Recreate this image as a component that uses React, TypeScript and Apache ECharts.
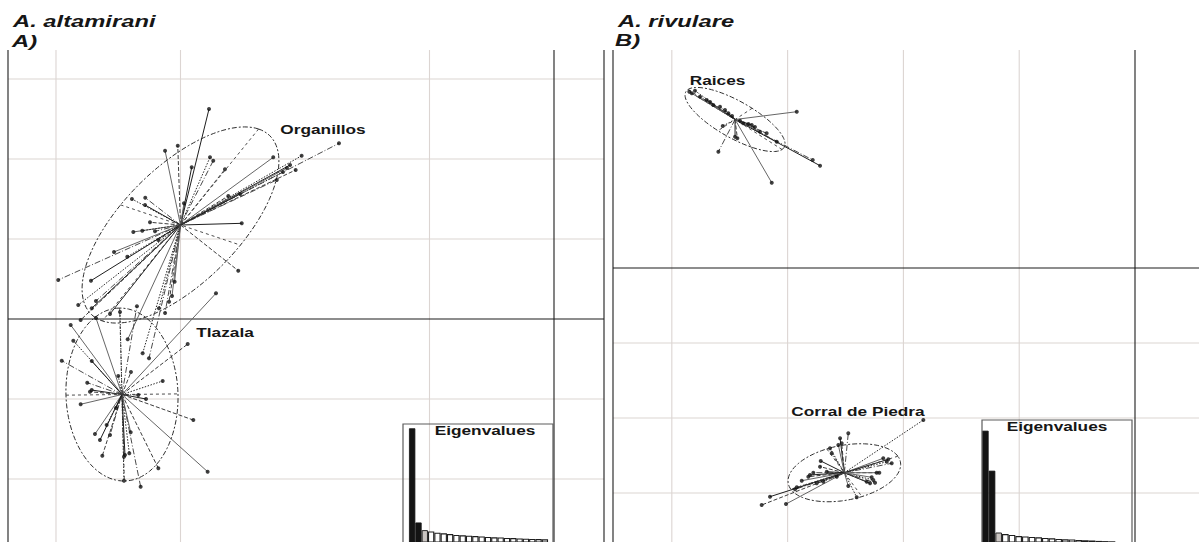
import React, { useEffect, useRef } from "react";
import * as echarts from "echarts";

// ---------- A. altamirani : discriminant scores (axis 1, axis 2) ----------
const organillos: number[][] = [
  [-2.771, 2.625], [-3.022, 2.166], [-3.124, 2.104], [-2.763, 2.021], [-2.737, 1.979],
  [-2.910, 1.896], [-2.643, 1.871], [-2.255, 2.021], [-2.027, 2.041], [-1.727, 2.196],
  [-2.120, 1.925], [-2.075, 1.863], [-2.145, 1.888], [-2.177, 1.838], [-2.227, 1.738],
  [-2.522, 1.563], [-2.616, 1.538], [-2.972, 1.446], [-3.390, 1.500], [-3.283, 1.516],
  [-3.285, 1.425], [-3.245, 1.209], [-3.379, 1.088], [-3.307, 1.104], [-3.205, 1.096],
  [-2.508, 1.196], [-3.178, 0.988], [-3.534, 0.838], [-3.427, 0.779], [-3.982, 0.488],
  [-3.719, 0.479], [-2.536, 0.604], [-3.047, 0.466], [-3.821, 0.175], [-3.679, 0.225],
  [-3.713, 0.134], [-3.092, 0.216], [-3.068, 0.288], [-3.173, 0.134], [-3.124, 0.075],
  [-3.566, 0.063], [-3.802, -0.013], [-3.424, -0.254], [-3.304, -0.429], [-3.253, -0.491],
];
const tlazala: number[][] = [
  [-3.882, -0.075], [-3.861, -0.271], [-3.954, -0.521], [-3.713, -0.525], [-2.942, -0.313],
  [-2.715, 0.321], [-3.500, -0.713], [-3.749, -0.796], [-3.713, -0.888], [-3.727, -0.909],
  [-3.802, -1.066], [-3.143, -0.775], [-3.339, -0.950], [-3.277, -1.000], [-2.897, -1.263],
  [-3.687, -1.438], [-3.593, -1.325], [-3.566, -1.450], [-3.647, -1.513], [-3.628, -1.709],
  [-3.400, -1.416], [-3.411, -1.679], [-3.454, -1.721], [-3.446, -1.700], [-3.178, -1.866],
  [-2.782, -1.909], [-3.454, -2.021], [-3.320, -2.096], [-3.518, -1.113], [-3.398, -0.663],
  [-3.679, 0.013], [-3.486, 0.088], [-3.350, 0.160],
];
const organillosCentroid = [-3.0, 1.175];
const tlazalaCentroid = [-3.47, -0.944];
// inertia ellipses: [semi-major, semi-minor, angle of the major axis (deg)]
const organillosEllipse = [1.354, 0.543, 62.4];
const tlazalaEllipse = [1.081, 0.45, 91];

// ---------- A. rivulare ----------
const raices: number[][] = [
  [-3.849, 2.351], [-3.828, 2.329], [-3.800, 2.364], [-3.756, 2.284], [-3.699, 2.240],
  [-3.670, 2.213], [-3.642, 2.173], [-3.584, 2.151], [-3.541, 2.107], [-3.512, 2.063],
  [-3.480, 2.027], [-3.411, 1.964], [-3.383, 1.929], [-3.339, 1.920], [-3.310, 1.907],
  [-3.282, 1.880], [-2.921, 2.084], [-3.560, 1.893], [-3.598, 1.551], [-3.454, 1.751],
  [-3.434, 1.729], [-3.137, 1.137], [-3.094, 1.684], [-2.783, 1.440], [-2.720, 1.364],
  [-3.181, 1.796], [-3.238, 1.817],
];
const corral: number[][] = [
  [-1.828, -2.027], [-2.476, -2.204], [-2.547, -2.271], [-2.533, -2.337], [-2.562, -2.360],
  [-2.634, -2.404], [-2.619, -2.471], [-2.714, -2.573], [-2.720, -2.649], [-2.174, -2.537],
  [-2.144, -2.583], [-2.101, -2.604], [-2.130, -2.551], [-2.231, -2.729], [-2.208, -2.729],
  [-2.260, -2.827], [-2.245, -2.863], [-2.288, -2.871], [-2.317, -2.849], [-2.476, -2.907],
  [-2.403, -3.057], [-2.778, -2.729], [-2.807, -2.760], [-2.821, -2.783], [-2.878, -2.836],
  [-2.921, -2.924], [-2.936, -2.951], [-3.152, -3.049], [-3.224, -3.160], [-3.014, -3.147],
  [-2.749, -2.871], [-2.692, -2.849], [-2.662, -2.716], [-2.576, -2.783], [-2.274, -2.791],
];
const raicesCentroid = [-3.454, 1.98];
const corralCentroid = [-2.51, -2.73];
const raicesEllipse = [0.57, 0.21, -44.6];
const corralEllipse = [0.512, 0.352, 25.5];

// ---------- eigenvalue screeplots ----------
const eigenAltamirani = [60.8, 13.7, 9.9, 9.2, 8.6, 8.3, 7.9, 7.5, 7.3, 7.1, 6.9, 6.7, 6.5, 6.3, 6.2, 6.0, 5.9, 5.7, 5.6, 5.5, 5.4, 5.3];
const eigenRivulare = [59.6, 39.6, 8.7, 7.9, 7.5, 6.9, 6.7, 6.5, 6.3, 6.0, 5.8, 5.5, 5.3, 5.2, 5.0, 4.8, 4.7, 4.5, 4.4, 4.3, 4.2];
const retainedAxes = 2; // dark bars
const highlightedAxis = 3; // grey bar

// ---------- reference grid lines ----------
const altGridX = [-4, -3, -1];
const altGridY = [3, 2, 1, -1, -2];
const rivGridX = [-4, -3, -2, -1];
const rivGridY = [-1, -2, -3];

// axis windows of the score plots and of the screeplots
const altRange = { xMin: -4.3855, xMax: 0.4016, yMin: -2.7875, yMax: 3.3625 };
const rivRange = { xMin: -4.508, xMax: 0.5527, yMin: -3.6533, yMax: 2.9067 };
const altEigRange = { xMin: -0.45, xMax: 23.28, yMin: 3.95, yMax: 62.95 };
const rivEigRange = { xMin: 0.5, xMax: 23.0, yMin: 3.95, yMax: 64.95 };

const FONT = '"Liberation Sans", Arial, Helvetica, sans-serif';
const STRETCH = 1.44;

const STAR_STYLES = [
  { color: "#1e1e1e", width: 1, dash: null as number[] | null },
  { color: "#3c3c3c", width: 1, dash: [4, 2] },
  { color: "#666666", width: 1, dash: null },
  { color: "#262626", width: 1, dash: [1.5, 1.5] },
  { color: "#4a4a4a", width: 1, dash: [6, 2, 1, 2] },
];

function starData(points: number[][], c: number[], offset: number) {
  return points.map((p, i) => [p[0], p[1], c[0], c[1], i + offset]);
}

function gridData(xs: number[], ys: number[], xMin: number, xMax: number | null) {
  const d: number[][] = [];
  xs.forEach((v) => d.push([v, 0, 0]));
  ys.forEach((v) => d.push([v, 1, 0]));
  d.push([0, 0, 1]);
  d.push([0, 1, 1]);
  d.push([xMin, 0, 1]);
  if (xMax !== null) d.push([xMax, 0, 1]);
  return d;
}

const gridRender = (params: any, api: any) => {
  const cs = params.coordSys;
  const v = api.value(0);
  const dir = api.value(1);
  const kind = api.value(2);
  const style = kind
    ? { stroke: "#1c1c1c", lineWidth: 1.1 }
    : { stroke: "#dcd5d2", lineWidth: 1.1 };
  if (dir === 0) {
    const x = api.coord([v, 0])[0];
    return { type: "line", silent: true, shape: { x1: x, y1: cs.y, x2: x, y2: cs.y + cs.height + 20 }, style };
  }
  const y = api.coord([0, v])[1];
  return { type: "line", silent: true, shape: { x1: cs.x, y1: y, x2: cs.x + cs.width, y2: y }, style };
};

// open-bottom frame around a screeplot
const frameRender = (params: any) => {
  const cs = params.coordSys;
  const b = cs.y + cs.height + 20;
  return {
    type: "polyline",
    silent: true,
    shape: { points: [[cs.x, b], [cs.x, cs.y], [cs.x + cs.width, cs.y], [cs.x + cs.width, b]] },
    style: { stroke: "#5c5c5c", lineWidth: 1.2, fill: null },
  };
};

const starRender = (_params: any, api: any) => {
  const p = api.coord([api.value(0), api.value(1)]);
  const c = api.coord([api.value(2), api.value(3)]);
  const s = STAR_STYLES[api.value(4) % STAR_STYLES.length];
  return {
    type: "line",
    silent: true,
    shape: { x1: c[0], y1: c[1], x2: p[0], y2: p[1] },
    style: { stroke: s.color, lineWidth: s.width, lineDash: s.dash || undefined },
  };
};

const ellipseRender = (_params: any, api: any) => {
  const cx = api.value(0);
  const cy = api.value(1);
  const a = api.value(2);
  const b = api.value(3);
  const th = (api.value(4) * Math.PI) / 180;
  const u = [Math.cos(th), Math.sin(th)];
  const w = [-Math.sin(th), Math.cos(th)];
  const pts: number[][] = [];
  for (let k = 0; k <= 120; k++) {
    const t = (k / 120) * Math.PI * 2;
    const x = cx + a * Math.cos(t) * u[0] + b * Math.sin(t) * w[0];
    const y = cy + a * Math.cos(t) * u[1] + b * Math.sin(t) * w[1];
    pts.push(api.coord([x, y]));
  }
  const A1 = api.coord([cx + a * u[0], cy + a * u[1]]);
  const A2 = api.coord([cx - a * u[0], cy - a * u[1]]);
  const B1 = api.coord([cx + b * w[0], cy + b * w[1]]);
  const B2 = api.coord([cx - b * w[0], cy - b * w[1]]);
  const axisStyle = { stroke: "#3a3a3a", lineWidth: 0.9, lineDash: [3, 3] };
  return {
    type: "group",
    silent: true,
    children: [
      { type: "polyline", shape: { points: pts }, style: { stroke: "#2e2e2e", lineWidth: 1, lineDash: [5, 2, 2, 2], fill: null } },
      { type: "line", shape: { x1: A1[0], y1: A1[1], x2: A2[0], y2: A2[1] }, style: axisStyle },
      { type: "line", shape: { x1: B1[0], y1: B1[1], x2: B2[0], y2: B2[1] }, style: axisStyle },
    ],
  };
};

function eigenBars(values: number[]) {
  return values.map((v, i) => {
    const rank = i + 1;
    let itemStyle;
    if (rank <= retainedAxes) itemStyle = { color: "#141414", borderColor: "#141414", borderWidth: 0.8 };
    else if (rank === highlightedAxis) itemStyle = { color: "#c9c4c1", borderColor: "#2a2a2a", borderWidth: 1 };
    else itemStyle = { color: "#ffffff", borderColor: "#1e1e1e", borderWidth: 1.1 };
    return { value: [rank, v], itemStyle };
  });
}

function txt(text: string, x: number, y: number, size: number, opts: any = {}) {
  const align = opts.align || "center";
  return {
    type: "text",
    x,
    y,
    scaleX: STRETCH,
    z: 100,
    silent: true,
    style: {
      text,
      x: 0,
      y: 0,
      font: `${opts.italic ? "italic " : ""}bold ${size}px ${FONT}`,
      fill: "#161616",
      align,
      verticalAlign: "middle",
      textAlign: align,
      textVerticalAlign: "middle",
    },
  };
}

export default function App() {
  const ref = useRef<HTMLDivElement | null>(null);

  useEffect(() => {
    if (!ref.current) return;
    const chart = echarts.init(ref.current, undefined, { renderer: "svg" });

    const valueAxis = (gridIndex: number, r: { xMin: number; xMax: number; yMin: number; yMax: number }, dim: "x" | "y") => ({
      type: "value",
      gridIndex,
      min: dim === "x" ? r.xMin : r.yMin,
      max: dim === "x" ? r.xMax : r.yMax,
      show: false,
      splitLine: { show: false },
    });

    const option: any = {
      animation: false,
      backgroundColor: "#ffffff",
      grid: [
        { left: 8, top: 50, width: 596, bottom: 0 },
        { left: 613, top: 50, right: 0, bottom: 0 },
        { left: 403, top: 424, width: 150, bottom: 0 },
        { left: 982, top: 420, width: 150, bottom: 0 },
      ],
      xAxis: [
        valueAxis(0, altRange, "x"),
        valueAxis(1, rivRange, "x"),
        valueAxis(2, altEigRange, "x"),
        valueAxis(3, rivEigRange, "x"),
      ],
      yAxis: [
        valueAxis(0, altRange, "y"),
        valueAxis(1, rivRange, "y"),
        valueAxis(2, altEigRange, "y"),
        valueAxis(3, rivEigRange, "y"),
      ],
      series: [
        // reference grid, axes through the origin and panel frame
        {
          type: "custom", xAxisIndex: 0, yAxisIndex: 0, z: 1, silent: true,
          renderItem: gridRender,
          data: gridData(altGridX, altGridY, altRange.xMin, altRange.xMax),
        },
        {
          type: "custom", xAxisIndex: 1, yAxisIndex: 1, z: 1, silent: true,
          renderItem: gridRender,
          data: gridData(rivGridX, rivGridY, rivRange.xMin, null),
        },
        // stars: each individual linked to its population centroid
        {
          type: "custom", xAxisIndex: 0, yAxisIndex: 0, z: 2, silent: true,
          renderItem: starRender,
          dimensions: ["x", "y", "cx", "cy", "k"],
          encode: { x: 0, y: 1 },
          data: starData(organillos, organillosCentroid, 0).concat(starData(tlazala, tlazalaCentroid, 2)),
        },
        {
          type: "custom", xAxisIndex: 1, yAxisIndex: 1, z: 2, silent: true,
          renderItem: starRender,
          dimensions: ["x", "y", "cx", "cy", "k"],
          encode: { x: 0, y: 1 },
          data: starData(raices, raicesCentroid, 1).concat(starData(corral, corralCentroid, 3)),
        },
        // inertia ellipses
        {
          type: "custom", xAxisIndex: 0, yAxisIndex: 0, z: 3, silent: true,
          renderItem: ellipseRender,
          dimensions: ["x", "y", "a", "b", "t"],
          encode: { x: 0, y: 1 },
          data: [
            [...organillosCentroid, ...organillosEllipse],
            [...tlazalaCentroid, ...tlazalaEllipse],
          ],
        },
        {
          type: "custom", xAxisIndex: 1, yAxisIndex: 1, z: 3, silent: true,
          renderItem: ellipseRender,
          dimensions: ["x", "y", "a", "b", "t"],
          encode: { x: 0, y: 1 },
          data: [
            [...raicesCentroid, ...raicesEllipse],
            [...corralCentroid, ...corralEllipse],
          ],
        },
        // individuals
        {
          type: "scatter", xAxisIndex: 0, yAxisIndex: 0, z: 4, silent: true,
          symbol: "circle", symbolSize: 4,
          itemStyle: { color: "#111111" },
          data: organillos.concat(tlazala),
        },
        {
          type: "scatter", xAxisIndex: 1, yAxisIndex: 1, z: 4, silent: true,
          symbol: "circle", symbolSize: 4,
          itemStyle: { color: "#111111" },
          data: raices.concat(corral),
        },
        // eigenvalue insets
        {
          type: "custom", xAxisIndex: 2, yAxisIndex: 2, z: 6, silent: true,
          renderItem: frameRender,
          data: [[1, 10]],
        },
        {
          type: "custom", xAxisIndex: 3, yAxisIndex: 3, z: 6, silent: true,
          renderItem: frameRender,
          data: [[1, 10]],
        },
        {
          type: "bar", xAxisIndex: 2, yAxisIndex: 2, z: 5, silent: true,
          barWidth: 6.3,
          data: eigenBars(eigenAltamirani),
        },
        {
          type: "bar", xAxisIndex: 3, yAxisIndex: 3, z: 5, silent: true,
          barWidth: 6.6,
          data: eigenBars(eigenRivulare),
        },
      ],
      graphic: {
        elements: [
          txt("A. altamirani", 13, 20.5, 16.5, { italic: true, align: "left" }),
          txt("A)", 12, 40.5, 16.5, { italic: true, align: "left" }),
          txt("A. rivulare", 618, 20.5, 16.5, { italic: true, align: "left" }),
          txt("B)", 615, 39.5, 16.5, { italic: true, align: "left" }),
          txt("Organillos", 323, 130, 12),
          txt("Tlazala", 225, 333, 12),
          txt("Raices", 717.5, 81.3, 12),
          txt("Corral de Piedra", 858, 411.7, 12),
          txt("Eigenvalues", 485, 430.5, 12),
          txt("Eigenvalues", 1057, 426.5, 12),
        ],
      },
    };

    chart.setOption(option);
    return () => chart.dispose();
  }, []);

  return (
    <div
      ref={ref}
      style={{ position: "fixed", left: 0, top: 0, width: 1199, height: 542, background: "#ffffff" }}
    />
  );
}
